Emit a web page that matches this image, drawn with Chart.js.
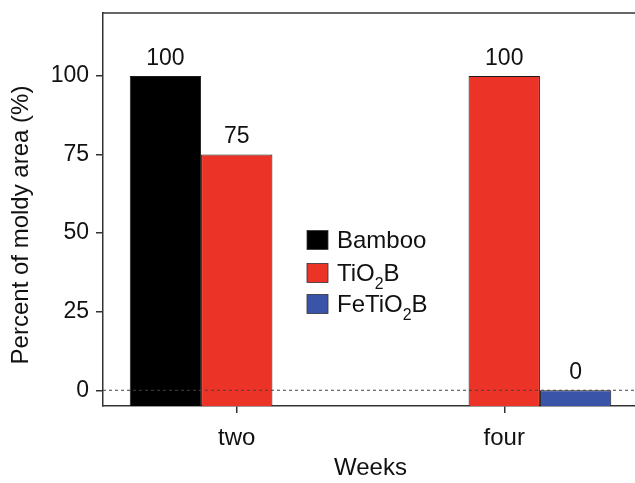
<!DOCTYPE html>
<html>
<head>
<meta charset="utf-8">
<script src="https://cdn.jsdelivr.net/npm/chart.js@4.4.1/dist/chart.umd.min.js"></script>
<style>
  html, body { margin: 0; padding: 0; background: #fff; overflow: hidden; }
  #wrap { width: 650px; height: 483px; }
</style>
</head>
<body>
<div id="wrap"><canvas id="moldChart" width="650" height="483"></canvas></div>
<script>
// data
const weeks = ['two', 'four'];
const bamboo = [100, null];
const tio2b = [75, 100];
const fetio2b = [null, 0];
const seriesNames = ['Bamboo', 'TiO₂B', 'FeTiO₂B'];
const yTicks = [0, 25, 50, 75, 100];

const FONT = '"Liberation Sans", Arial, sans-serif';
const AXIS = '#333';

// draws text, turning "₂" into a small lowered 2
function drawSubText(ctx, text, x, y, size) {
  let cx = x;
  for (const part of text.split(/(₂)/)) {
    if (!part) continue;
    if (part === '₂') {
      ctx.font = (size * 0.66) + 'px ' + FONT;
      ctx.fillText('2', cx, y + size * 0.45);
      cx += ctx.measureText('2').width;
    } else {
      ctx.font = size + 'px ' + FONT;
      ctx.fillText(part, cx, y);
      cx += ctx.measureText(part).width;
    }
  }
}

const extras = {
  id: 'extras',
  afterDatasetsDraw(chart) {
    const { ctx, chartArea, scales } = chart;
    const y0 = scales.y.getPixelForValue(0);
    ctx.save();
    // dashed zero line
    ctx.strokeStyle = '#444';
    ctx.lineWidth = 1;
    ctx.setLineDash([3, 3]);
    ctx.beginPath();
    ctx.moveTo(chartArea.left, y0);
    ctx.lineTo(chart.width, y0);
    ctx.stroke();
    ctx.setLineDash([]);

    // top frame line
    ctx.strokeStyle = AXIS;
    ctx.lineWidth = 1.5;
    ctx.beginPath();
    ctx.moveTo(chartArea.left, chartArea.top);
    ctx.lineTo(chart.width, chartArea.top);
    ctx.stroke();

    // value labels
    ctx.fillStyle = '#111';
    ctx.font = '23px ' + FONT;
    ctx.textAlign = 'center';
    ctx.textBaseline = 'alphabetic';
    chart.data.datasets.forEach((ds, i) => {
      chart.getDatasetMeta(i).data.forEach((bar, j) => {
        const v = ds.data[j];
        if (v === null || v === undefined) return;
        ctx.fillText(String(v), bar.x, scales.y.getPixelForValue(v) - 11);
      });
    });

    // legend
    ctx.textAlign = 'left';
    ctx.textBaseline = 'middle';
    const rows = [240, 273, 304];
    chart.data.datasets.forEach((ds, i) => {
      const cy = rows[i];
      ctx.fillStyle = ds.backgroundColor;
      ctx.fillRect(307, cy - 9.5, 21, 19);
      ctx.strokeStyle = '#333';
      ctx.lineWidth = 0.8;
      ctx.strokeRect(307, cy - 9.5, 21, 19);
      ctx.fillStyle = '#111';
      drawSubText(ctx, seriesNames[i], 337, cy + 1, 24);
    });

    // y axis title
    ctx.translate(21, 225);
    ctx.rotate(-Math.PI / 2);
    ctx.textAlign = 'center';
    ctx.font = '24px ' + FONT;
    ctx.fillText('Percent of moldy area (%)', 0, 0);
    ctx.restore();
  }
};

new Chart(document.getElementById('moldChart'), {
  type: 'bar',
  data: {
    labels: weeks,
    datasets: [
      { label: seriesNames[0], data: bamboo, backgroundColor: '#000000' },
      { label: seriesNames[1], data: tio2b, backgroundColor: '#ec3327' },
      { label: seriesNames[2], data: fetio2b, backgroundColor: '#3a55a8' }
    ]
  },
  options: {
    responsive: false,
    animation: false,
    events: [],
    layout: { padding: { top: 13, right: 12, left: 0, bottom: 0 } },
    datasets: {
      bar: {
        base: -5,
        barPercentage: 1.0,
        categoryPercentage: 0.8,
        borderColor: '#1a1a1a',
        borderWidth: 1,
        borderSkipped: 'start'
      }
    },
    plugins: {
      legend: { display: false },
      tooltip: { enabled: false }
    },
    scales: {
      x: {
        offset: true,
        afterFit(scale) { scale.height = 77; scale.paddingLeft = 0; scale.paddingRight = 0; },
        grid: { offset: false, drawOnChartArea: false, drawTicks: true, tickLength: 7, color: AXIS, lineWidth: 1.5 },
        border: { display: true, color: AXIS, width: 1.5 },
        ticks: { color: '#111', font: { family: FONT, size: 24 }, padding: 11 },
        title: { display: true, text: 'Weeks', color: '#111', font: { family: FONT, size: 24 }, padding: { top: 4, bottom: 0 } }
      },
      y: {
        min: -5,
        max: 120,
        afterFit(scale) { scale.width = 103; scale.paddingTop = 0; scale.paddingBottom = 0; },
        afterBuildTicks(scale) { scale.ticks = yTicks.map(v => ({ value: v })); },
        grid: { drawOnChartArea: false, drawTicks: true, tickLength: 7, color: AXIS, lineWidth: 1.5 },
        border: { display: true, color: AXIS, width: 1.5 },
        ticks: { color: '#111', font: { family: FONT, size: 23 }, padding: 7 }
      }
    }
  },
  plugins: [extras]
});
</script>
</body>
</html>
